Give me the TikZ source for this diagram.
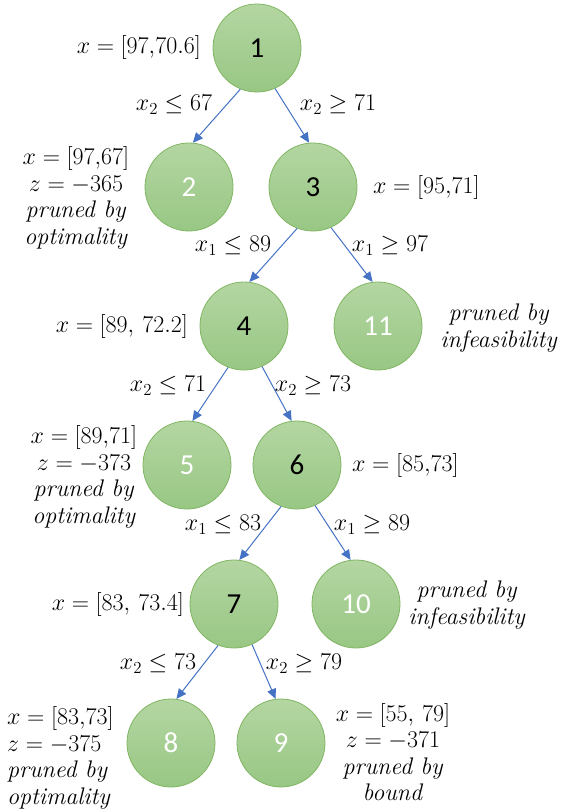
\RequirePackage{fix-cm}
\documentclass[tikz,border=0pt]{standalone}
\usepackage{amsmath}
\usepackage{fontspec}
\newfontfamily\numfont{Carlito}
\usetikzlibrary{arrows.meta}
\definecolor{nodetop}{RGB}{180,214,162}
\definecolor{nodebot}{RGB}{152,199,132}
\definecolor{nodeedge}{RGB}{128,182,98}
\definecolor{branchblue}{RGB}{68,114,196}
\tikzset{
  bbnode/.style={circle, minimum size=88pt, inner sep=0pt,
    top color=nodetop, bottom color=nodebot, draw=nodeedge,
    line width=0.8pt, font=\fontsize{29}{29}\numfont},
  prunednode/.style={bbnode, text=white},
  branch/.style={-{Triangle[length=10pt,width=9pt]}, branchblue,
    line width=1pt},
  info/.style={font=\fontsize{24}{26.5}\selectfont, align=center,
    inner sep=0pt},
}

\begin{document}
\begin{tikzpicture}[x=1pt, y=-1pt]
  \useasboundingbox (0,0) rectangle (565,811);
  % ---------- the tree, one row every 139 ----------
  \node[bbnode] (n1) at (257,48) {1};
  \node[prunednode] (n2) at (189,187) {2};
  \node[bbnode] (n3) at (313,187) {3};
  \node[bbnode] (n4) at (244,326) {4};
  \node[prunednode] (n11) at (378,326) {11};
  \node[prunednode] (n5) at (187,465) {5};
  \node[bbnode] (n6) at (297,465) {6};
  \node[bbnode] (n7) at (234,604) {7};
  \node[prunednode] (n10) at (356,604) {10};
  \node[prunednode] (n8) at (171,743) {8};
  \node[prunednode] (n9) at (281,743) {9};
  % branching arrows
  \draw[branch] (n1.-112) -- (n2.85);
  \draw[branch] (n1.-66) -- (n3.95);
  \draw[branch] (n3.-111) -- (n4.83);
  \draw[branch] (n3.-66) -- (n11.97);
  \draw[branch] (n4.-111) -- (n5.83);
  \draw[branch] (n4.-66) -- (n6.97);
  \draw[branch] (n6.-111) -- (n7.83);
  \draw[branch] (n6.-66) -- (n10.97);
  \draw[branch] (n7.-111) -- (n8.83);
  \draw[branch] (n7.-66) -- (n9.97);
  % branching constraints
  \node[info] (c12) at (174,105) {$x_2 \le 67$};
  \node[info] (c13) at (338,105) {$x_2 \ge 71$};
  \node[info] (c34) at (233,246) {$x_1 \le 89$};
  \node[info] (c311) at (390,246) {$x_1 \ge 97$};
  \node[info] (c45) at (168,386) {$x_2 \le 71$};
  \node[info] (c46) at (313,386) {$x_2 \ge 73$};
  \node[info] (c67) at (223,525) {$x_1 \le 83$};
  \node[info] (c610) at (372,525) {$x_1 \ge 89$};
  \node[info] (c78) at (158,664) {$x_2 \le 73$};
  \node[info] (c79) at (304,664) {$x_2 \ge 79$};
  % LP solutions and pruning notes
  \node[info, anchor=east] (s1) at (201,48) {$x = [97{,}70.6]$};
  \node[info] (s2) at (76,198)
    {$x = [97{,}67]$\\$z = -365$\\\textit{pruned by}\\\textit{optimality}};
  \node[info, anchor=west] (s3) at (373,187) {$x = [95{,}71]$};
  \node[info, anchor=east] (s4) at (188,326) {$x = [89,\,72.2]$};
  \node[info] (s11) at (499,328)
    {\textit{pruned by}\\\textit{infeasibility}};
  \node[info] (s5) at (84,477)
    {$x = [89{,}71]$\\$z = -373$\\\textit{pruned by}\\\textit{optimality}};
  \node[info, anchor=west] (s6) at (352,465) {$x = [85{,}73]$};
  \node[info, anchor=east] (s7) at (184,604) {$x = [83,\,73.4]$};
  \node[info] (s10) at (467,605)
    {\textit{pruned by}\\\textit{infeasibility}};
  \node[info, align=left, anchor=west] (s8) at (7,758)
    {$x = [83{,}73]$\\$z = -375$\\\textit{pruned by}\\\textit{optimality}};
  \node[info] (s9) at (393,752)
    {$x = [55,\,79]$\\$z = -371$\\\textit{pruned by}\\\textit{bound}};
\end{tikzpicture}
\end{document}
